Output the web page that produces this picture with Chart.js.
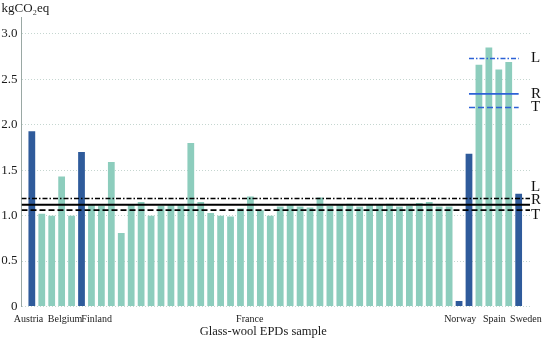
<!DOCTYPE html>
<html><head><meta charset="utf-8">
<script src="https://cdn.jsdelivr.net/npm/chart.js@4"></script>
<style>html,body{margin:0;padding:0;background:#fff}</style>
</head><body>
<canvas id="c" width="544" height="338"></canvas>
<script>
// --- data ---
const epdValues = [
  1.93, 1.02, 1.00, 1.43, 1.00, 1.70, 1.12, 1.11, 1.59, 0.81,
  1.12, 1.15, 1.00, 1.11, 1.12, 1.12, 1.80, 1.15, 1.03, 1.00,
  0.99, 1.08, 1.21, 1.06, 1.00, 1.10, 1.12, 1.10, 1.09, 1.20,
  1.11, 1.12, 1.13, 1.10, 1.12, 1.12, 1.13, 1.10, 1.11, 1.14,
  1.15, 1.10, 1.10, 0.06, 1.68, 2.66, 2.85, 2.61, 2.69, 1.24
];
const highlightedBars = [0, 5, 43, 44, 49];
const countryLabels = ['Austria', 'Belgium', 'Finland', 'France', 'Norway', 'Spain', 'Sweden'];
const countryAt = [-0.33, 3.34, 6.52, 21.93, 43.12, 46.56, 49.73];
const yTickValues = [0, 0.5, 1, 1.5, 2, 2.5, 3];
const refNames = ['L', 'R', 'T'];
const refAll = [1.19, 1.12, 1.06];
const refSpain = [2.73, 2.34, 2.19];
const spainSpan = [44, 49];

// --- layout / style ---
const X_MIN = -1.04, X_MAX = 50.14, Y_MAX = 3.18;
const LIGHT = '#8dcdbd', DARK = '#2f5b9b', BLUE = '#2c62d6';
const dashes = [[5, 2, 1.5, 2], [], [6, 3]];
const widths = [1.5, 2, 1.7];
const SERIF = "'Liberation Serif', 'Times New Roman', serif";

const rightLabelValues = [refSpain[0], refSpain[1], refSpain[2],
  refAll[0] + 0.13, refAll[1] + 0.055, refAll[2] - 0.055];
const rightLabelText = refNames.concat(refNames);

const datasets = [{
  type: 'bar',
  data: epdValues.map((v, i) => ({x: i, y: v})),
  backgroundColor: epdValues.map((v, i) => highlightedBars.includes(i) ? DARK : LIGHT),
  borderWidth: 0,
  barPercentage: 0.68,
  categoryPercentage: 1,
  order: 2
}];
refAll.forEach((v, k) => datasets.push({
  type: 'line',
  data: [{x: X_MIN, y: v}, {x: X_MAX, y: v}],
  borderColor: '#000', borderWidth: widths[k], borderDash: dashes[k],
  pointRadius: 0, fill: false, order: 0
}));
refSpain.forEach((v, k) => datasets.push({
  type: 'line',
  data: [{x: spainSpan[0], y: v}, {x: spainSpan[1], y: v}],
  borderColor: BLUE, borderWidth: widths[k] * 0.9, borderDash: dashes[k],
  pointRadius: 0, fill: false, order: 0
}));

new Chart(document.getElementById('c'), {
  type: 'bar',
  data: {datasets},
  options: {
    responsive: false,
    animation: false,
    devicePixelRatio: 1,
    layout: {padding: {left: 1.5, right: 2, top: 0, bottom: 0}},
    plugins: {
      legend: {display: false},
      tooltip: {enabled: false},
      title: {
        display: true, text: 'kgCO\u2082eq', align: 'start', position: 'top',
        color: '#1a1a1a', font: {family: SERIF, size: 13, weight: 'normal'},
        padding: {top: 1, bottom: 1}
      }
    },
    scales: {
      x: {
        type: 'linear', min: X_MIN, max: X_MAX, offset: false,
        grid: {display: false, drawTicks: false, tickLength: 0},
        border: {display: false},
        afterBuildTicks: s => { s.ticks = countryAt.map(v => ({value: v})); },
        afterFit: s => { s.height = 31.5; s.paddingLeft = 0; s.paddingRight = 0; },
        ticks: {
          autoSkip: false, maxRotation: 0, minRotation: 0, padding: 7,
          color: '#1a1a1a', font: {family: SERIF, size: 10},
          callback: (v, i) => countryLabels[i] || ''
        },
        title: {
          display: true, text: 'Glass-wool EPDs sample        ',
          color: '#1a1a1a', font: {family: SERIF, size: 12.5, lineHeight: 1},
          padding: {top: 0, bottom: 0}
        }
      },
      y: {
        type: 'linear', min: 0, max: Y_MAX, position: 'left',
        afterBuildTicks: s => { s.ticks = yTickValues.map(v => ({value: v})); },
        afterFit: s => { s.width = 20; },
        grid: {color: 'rgba(150,180,170,0.55)', drawTicks: false, lineWidth: 1},
        border: {display: true, dash: [1, 2], color: '#9aa8a4'},
        ticks: {
          padding: 4, color: '#1a1a1a', font: {family: SERIF, size: 13},
          callback: v => v === 0 ? '0' : v.toFixed(1)
        }
      },
      y2: {
        type: 'linear', min: 0, max: Y_MAX, position: 'right',
        grid: {display: false, drawTicks: false, tickLength: 0},
        border: {display: false},
        afterBuildTicks: s => { s.ticks = rightLabelValues.map(v => ({value: v})); },
        ticks: {
          autoSkip: false, padding: 1, color: '#111',
          font: {family: SERIF, size: 15},
          callback: (v, i) => rightLabelText[i]
        }
      }
    }
  }
});
</script>
</body></html>
